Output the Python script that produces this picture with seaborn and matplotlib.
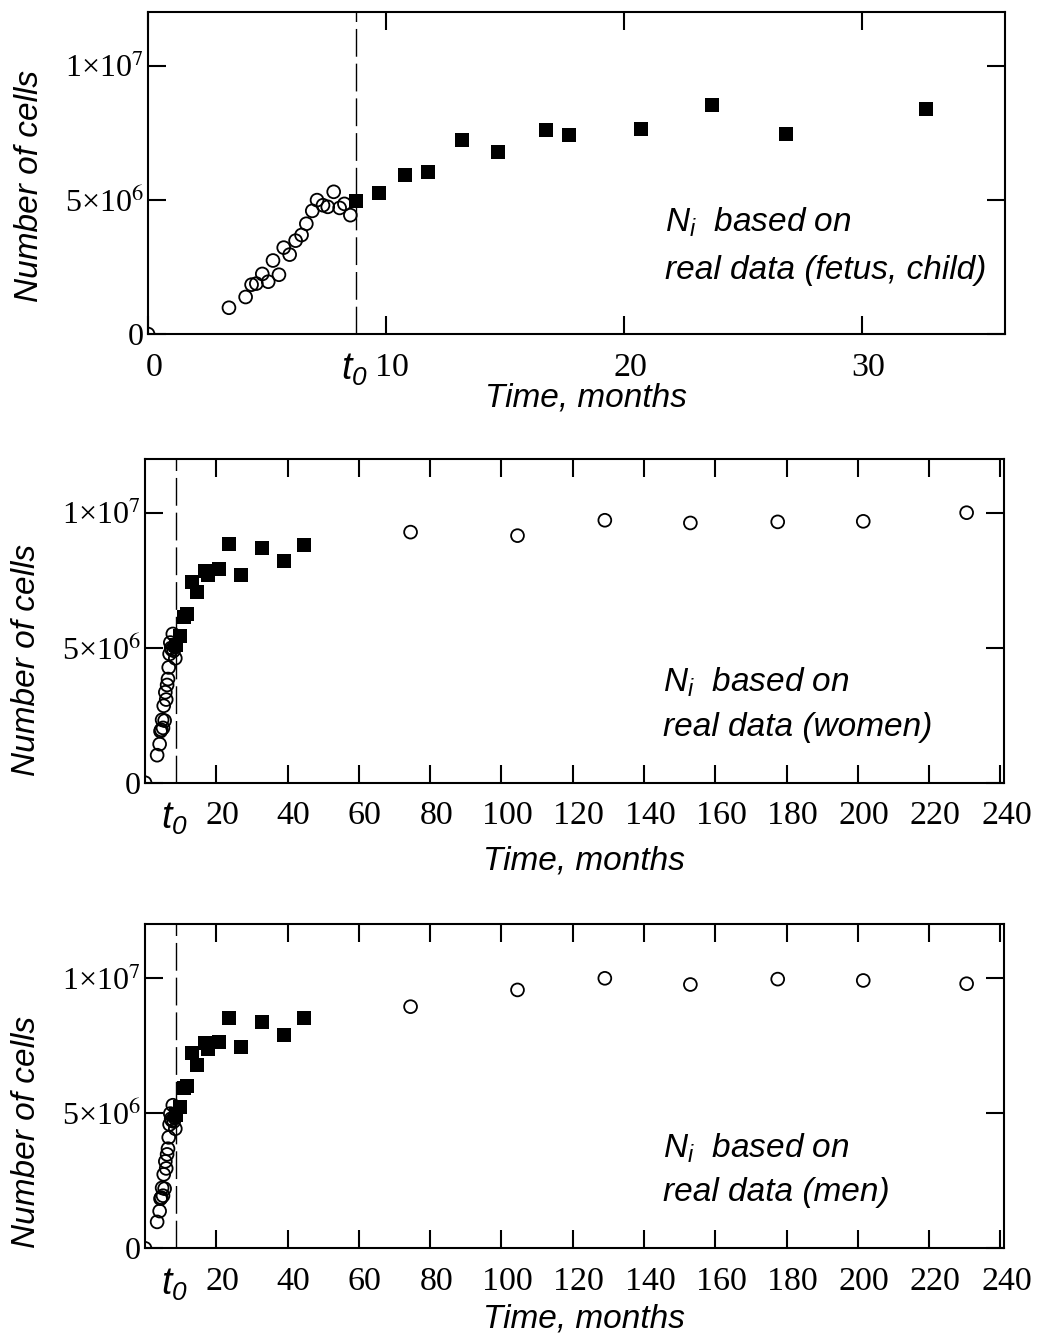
import matplotlib
matplotlib.use("Agg")
import matplotlib.pyplot as plt
from matplotlib.transforms import ScaledTranslation
import seaborn as sns
import pandas as pd

# ---- data (cells in units of 1e6, time in months) ----
t0 = 8.75

# fetal period, open circles (first point is the origin)
fetus_months = [0, 3.4, 4.1, 4.35, 4.55, 4.8, 5.05, 5.25, 5.5, 5.7, 5.95, 6.2,
                6.45, 6.65, 6.9, 7.1, 7.35, 7.55, 7.8, 8.05, 8.25, 8.5]
fetus_cells_men = [0, 0.98, 1.38, 1.84, 1.88, 2.24, 1.95, 2.74, 2.21, 3.22, 2.96, 3.48,
                   3.69, 4.11, 4.59, 4.99, 4.8, 4.74, 5.3, 4.7, 4.85, 4.43]
fetus_cells_women = [0, 1.02, 1.43, 1.91, 1.96, 2.33, 2.03, 2.85, 2.3, 3.35, 3.08, 3.62,
                     3.84, 4.27, 4.77, 5.19, 4.99, 4.93, 5.51, 4.89, 5.04, 4.61]

# childhood, filled squares
child_months = [8.75, 9.7, 10.8, 11.75, 13.2, 14.7, 16.7, 17.7, 20.7, 23.7, 26.8, 32.7, 38.9, 44.7]
child_cells_men = [4.95, 5.25, 5.93, 6.02, 7.22, 6.8, 7.62, 7.4, 7.64, 8.53, 7.45, 8.38, 7.9, 8.52]
child_cells_women = [5.1, 5.45, 6.15, 6.25, 7.45, 7.05, 7.85, 7.7, 7.92, 8.83, 7.7, 8.7, 8.2, 8.8]

# adults, open circles
adult_months = [74.5, 104.5, 129, 153, 177.5, 201.5, 230.5]
adult_cells_men = [8.95, 9.57, 10.0, 9.77, 9.97, 9.92, 9.8]
adult_cells_women = [9.28, 9.15, 9.72, 9.62, 9.66, 9.68, 10.0]

ytick_vals = [0, 5e6, 1e7]
ytick_labels = ["0", "5×10$^{6}$", "1×10$^{7}$"]

sns.set_style("ticks")
plt.rcParams["font.family"] = ["Liberation Sans", "DejaVu Sans"]
plt.rcParams["mathtext.fontset"] = "custom"
plt.rcParams["mathtext.rm"] = "Liberation Sans"
plt.rcParams["mathtext.it"] = "Liberation Sans:italic"
plt.rcParams["mathtext.sf"] = "Liberation Sans:italic"  # used for the italic t0 (digit too)
for key in ["text.color", "axes.labelcolor", "xtick.color", "ytick.color", "axes.edgecolor"]:
    plt.rcParams[key] = "black"

FS = 24
SERIF = ["Liberation Serif", "DejaVu Serif"]


def to_frame(months, cells):
    return pd.DataFrame({"month": months, "cells": [c * 1e6 for c in cells]})


def draw_panel(fig, ax, circles, squares, xlim, xticks, xticklabels, note, ylab_y, xlab_y):
    for df in circles:
        sns.scatterplot(data=df, x="month", y="cells", ax=ax, marker="o", s=85,
                        facecolor="none", edgecolor="black", linewidth=1.3, zorder=3)
    sns.scatterplot(data=squares, x="month", y="cells", ax=ax, marker="s", s=115,
                    color="black", edgecolor="black", linewidth=0, zorder=3)
    ax.axvline(t0, color="black", lw=1.0, ls=(0, (20, 5)), zorder=1)

    ax.set_xlim(*xlim)
    ax.set_ylim(0, 1.2e7)
    ax.set_xticks(xticks)
    ax.set_xticklabels(xticklabels, fontfamily=SERIF, fontsize=FS + 0.5)
    ax.set_xticks([t0], minor=True)
    ax.set_xticklabels([r"$\mathsf{t_0}$"], minor=True, fontsize=FS + 3)
    ax.set_yticks(ytick_vals)
    ax.set_yticklabels(ytick_labels, fontfamily=SERIF, fontsize=23,
                       math_fontfamily="stix")
    ax.tick_params(which="major", direction="in", length=13, width=1.5,
                   top=True, right=True)
    ax.tick_params(axis="x", which="both", pad=13)
    ax.tick_params(axis="y", pad=3)
    ax.tick_params(which="minor", length=0, top=False)
    for sp in ax.spines.values():
        sp.set_linewidth(1.5)
        sp.set_color("black")

    # labels in the original sit a little right of their ticks
    shift = ScaledTranslation(6 / 100, 0, fig.dpi_scale_trans)
    for lab in ax.get_xticklabels():
        lab.set_transform(lab.get_transform() + shift)
    shift_t0 = ScaledTranslation(-2 / 100, 0, fig.dpi_scale_trans)
    for lab in ax.get_xticklabels(minor=True):
        lab.set_transform(lab.get_transform() + shift_t0)

    ax.set_xlabel("Time, months", fontsize=FS, fontstyle="italic")
    ax.set_ylabel("Number of cells", fontsize=FS, fontstyle="italic")
    ax.xaxis.set_label_coords(0.511, xlab_y)
    ax.yaxis.set_label_coords(-0.12, ylab_y)

    ax.text(0.603, note[0], r"$N_i$  based on", transform=ax.transAxes,
            fontsize=FS, fontstyle="italic", va="baseline", ha="left")
    ax.text(0.603, note[1], note[2], transform=ax.transAxes,
            fontsize=FS, fontstyle="italic", va="baseline", ha="left")


fig = plt.figure(figsize=(10.38, 13.33), dpi=100)
ax1 = fig.add_axes([0.1426, 0.7494, 0.8256, 0.2416])
ax2 = fig.add_axes([0.1397, 0.4128, 0.8276, 0.2431])
ax3 = fig.add_axes([0.1397, 0.0635, 0.8276, 0.2431])

long_ticks = list(range(20, 241, 20))
long_labels = [str(v) for v in long_ticks]

draw_panel(fig, ax1, [to_frame(fetus_months, fetus_cells_men)],
           to_frame(child_months, child_cells_men),
           (0, 36), [0, 10, 20, 30], ["0", "10", "20", "30"],
           (0.317, 0.171, "real data (fetus, child)"), 0.46, -0.15)
draw_panel(fig, ax2, [to_frame(fetus_months, fetus_cells_women),
                      to_frame(adult_months, adult_cells_women)],
           to_frame(child_months, child_cells_women),
           (0, 241), long_ticks, long_labels,
           (0.281, 0.145, "real data (women)"), 0.38, -0.195)
draw_panel(fig, ax3, [to_frame(fetus_months, fetus_cells_men),
                      to_frame(adult_months, adult_cells_men)],
           to_frame(child_months, child_cells_men),
           (0, 241), long_ticks, long_labels,
           (0.281, 0.145, "real data (men)"), 0.358, -0.17)

fig.savefig("out.png", dpi=100)
